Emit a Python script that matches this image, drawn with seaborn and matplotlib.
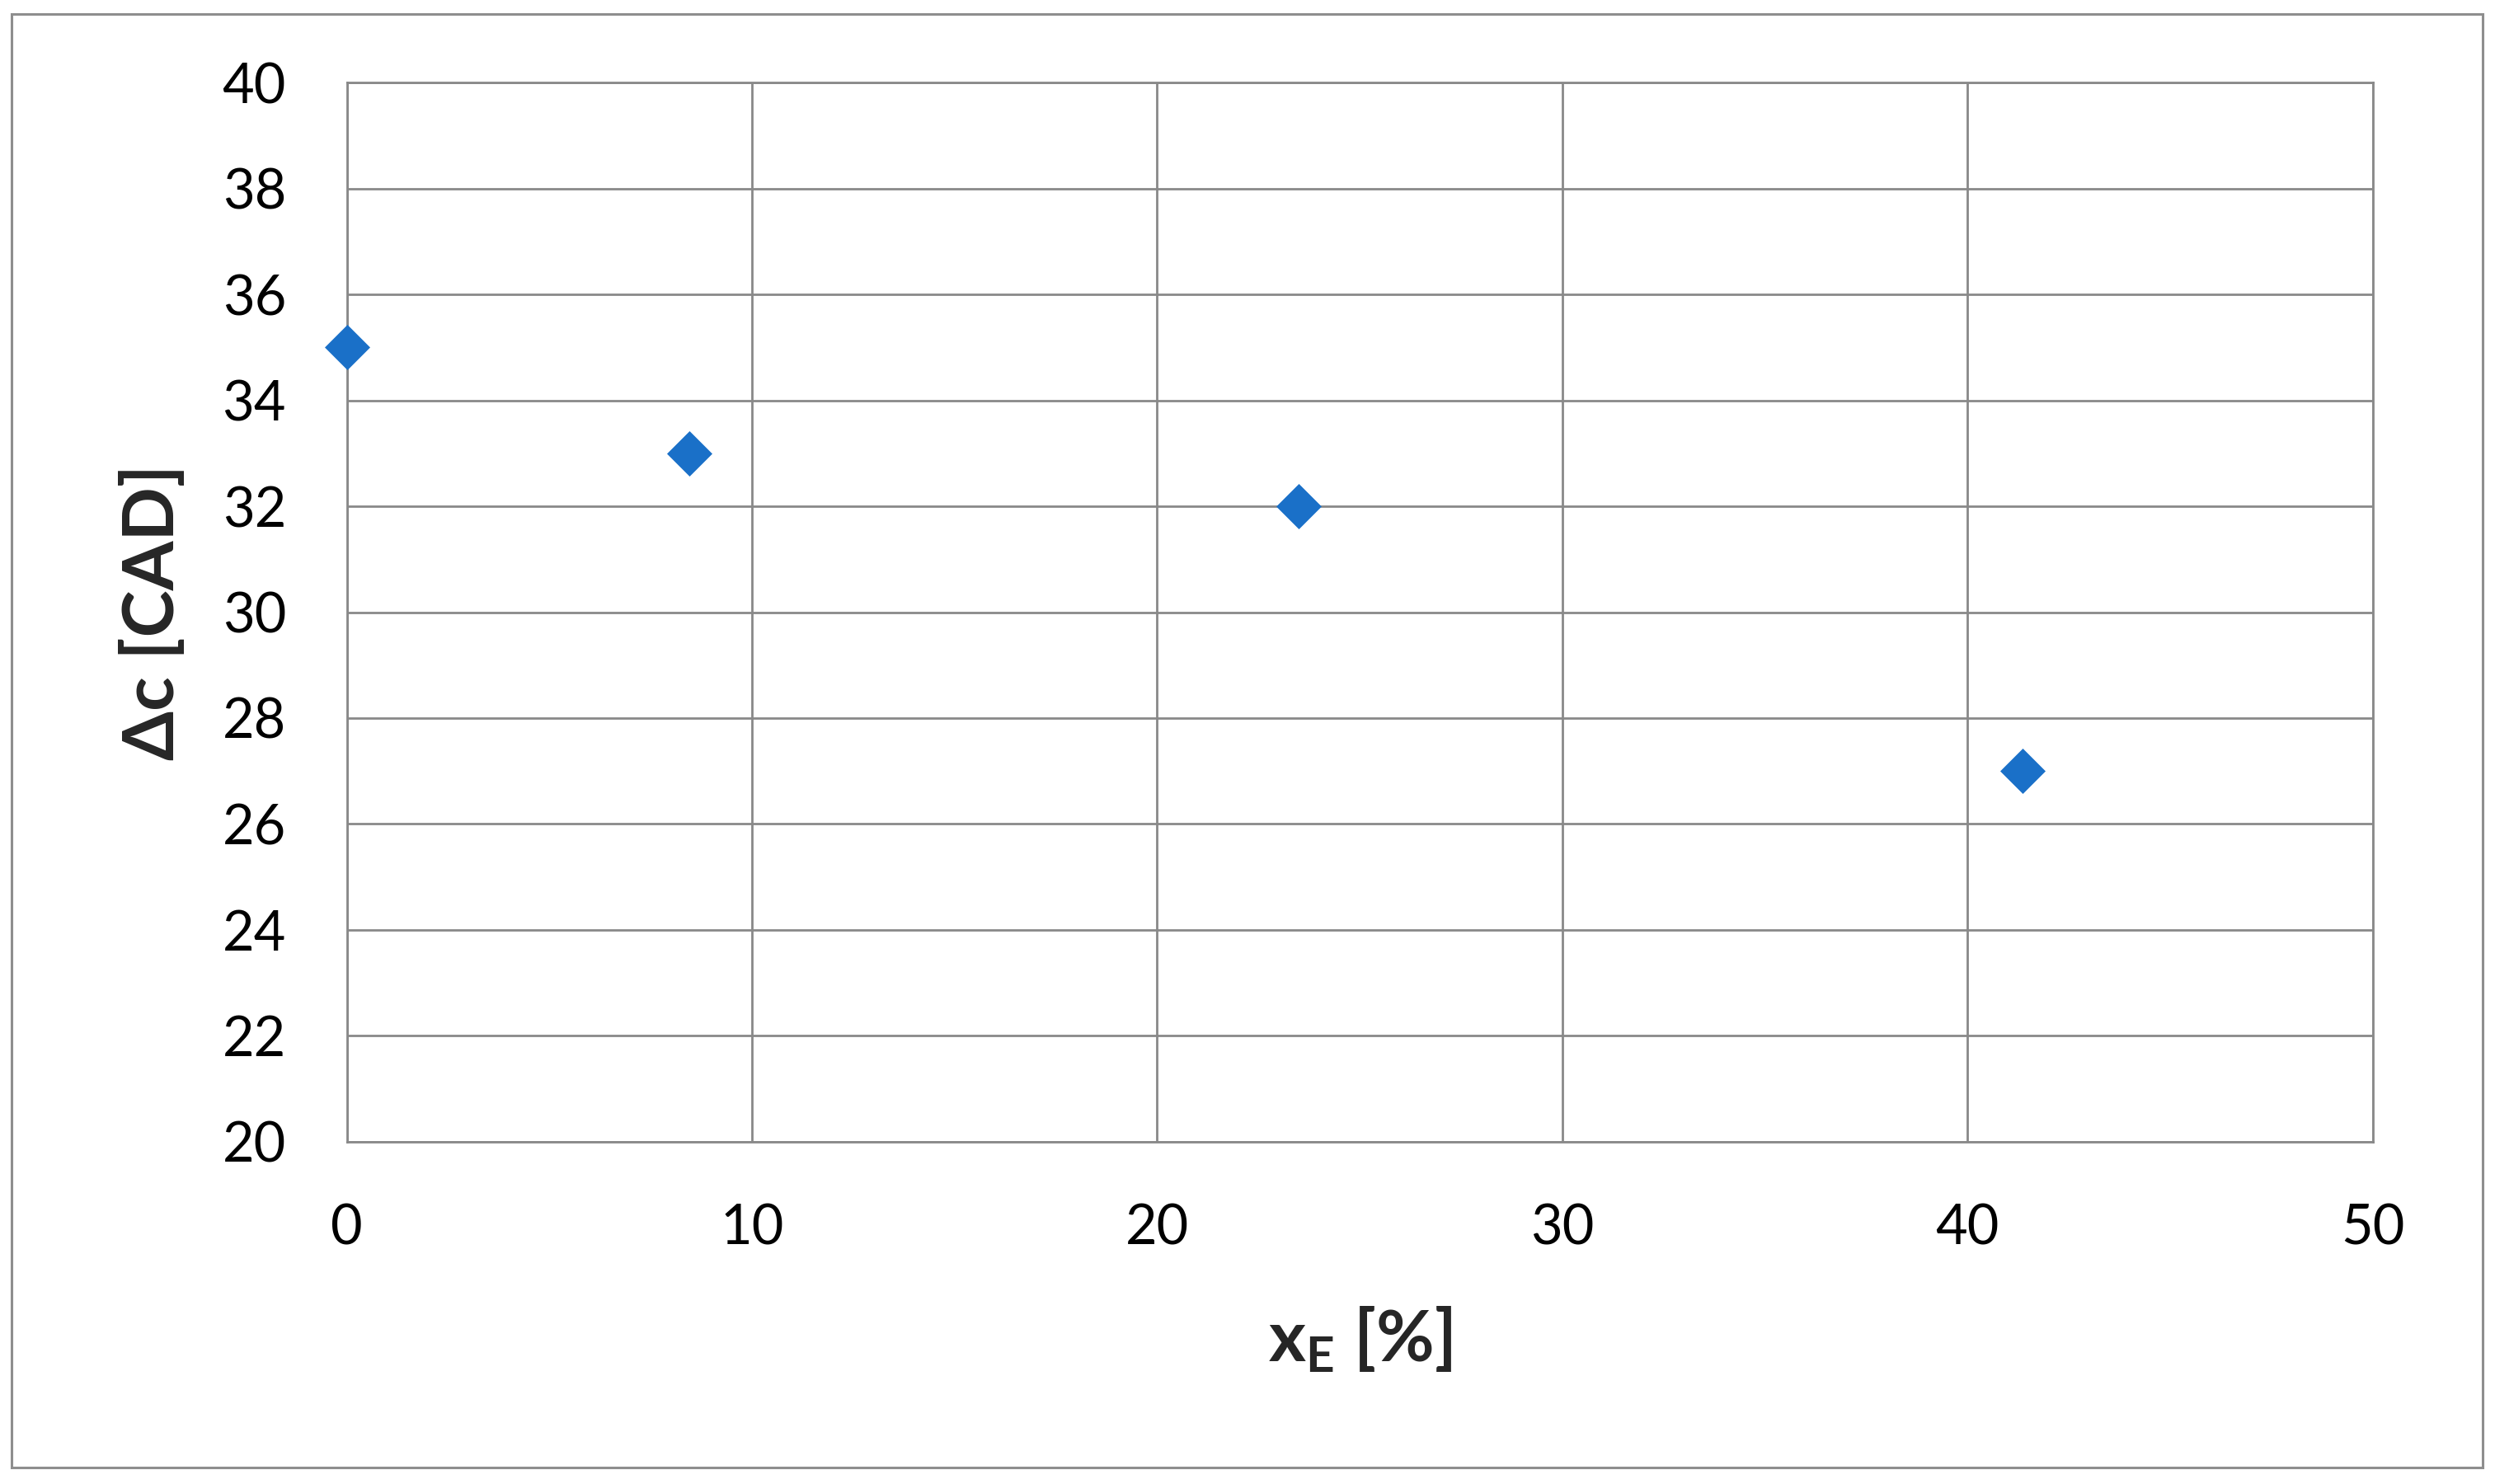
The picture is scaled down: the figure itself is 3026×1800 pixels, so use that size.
import matplotlib
matplotlib.use("Agg")
import matplotlib.pyplot as plt
import seaborn as sns
import pandas as pd
from matplotlib.patches import Rectangle

# share of E in the mix [%] and cost difference [CAD]
x_e = [0.0, 8.45, 23.5, 41.35]
delta_c = [35.0, 33.0, 32.0, 27.0]
x_ticks = [0, 10, 20, 30, 40, 50]
y_ticks = [20, 22, 24, 26, 28, 30, 32, 34, 36, 38, 40]

df = pd.DataFrame({"x_E": x_e, "dc": delta_c})

sns.set_style("white")
plt.rcParams['font.family'] = ['Lato', 'DejaVu Sans']
plt.rcParams['mathtext.fontset'] = 'custom'
plt.rcParams['mathtext.rm'] = 'Lato'
plt.rcParams['mathtext.bf'] = 'Lato:bold'

grid_col = '#898989'

fig = plt.figure(figsize=(30.26, 18), dpi=100)
ax = fig.add_axes([0.139, 0.2306, 0.812, 0.7138])

sns.scatterplot(data=df, x="x_E", y="dc", marker="D", s=28**2,
                color='#1a70c8', edgecolor='#1a70c8', linewidth=0, ax=ax,
                zorder=3, clip_on=False)

ax.set_xlim(0, 50)
ax.set_ylim(20, 40)
ax.set_xticks(x_ticks)
ax.set_yticks(y_ticks)
ax.set_axisbelow(True)
ax.grid(True, color=grid_col, linewidth=2)
for sp in ax.spines.values():
    sp.set_color(grid_col)
    sp.set_linewidth(2)

ax.tick_params(axis='both', direction='out', length=18, width=2, color=grid_col,
               labelsize=48, labelcolor='black')
ax.tick_params(axis='x', pad=36)
ax.tick_params(axis='y', pad=35)

ax.set_xlabel(r'$\mathbf{x_E}$ [%]', fontsize=62, fontweight='bold')
ax.set_ylabel('Δc [CAD]', fontsize=62, fontweight='bold')
ax.xaxis.label.set_va('center')
ax.yaxis.label.set_va('center')
ax.xaxis.set_label_coords(0.5, -0.187)
ax.yaxis.set_label_coords(-0.0953, 0.5)

# chart area frame
fig.patches.append(Rectangle((0.0046, 0.0111), 0.9904, 0.9795, transform=fig.transFigure,
                             fill=False, edgecolor='#8e8e8e', linewidth=2.2))

fig.savefig("out.png", dpi=100)
